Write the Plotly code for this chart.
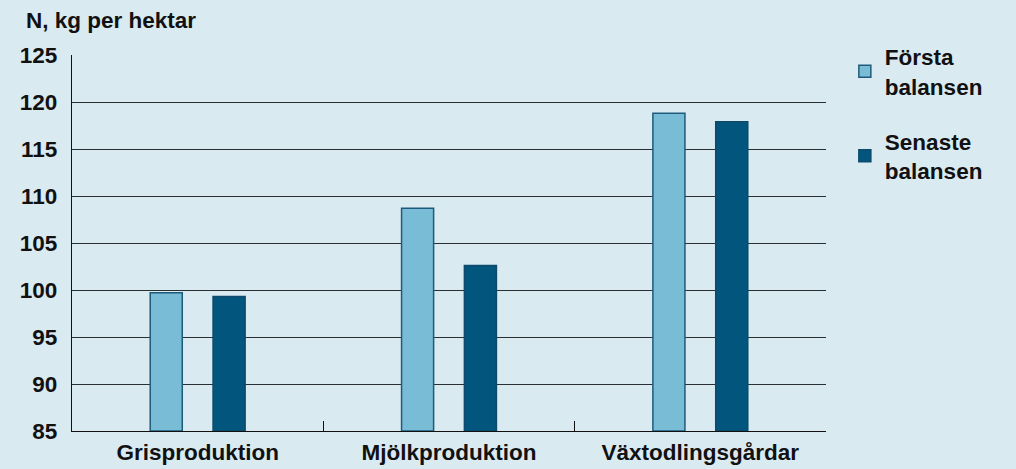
import plotly.graph_objects as go

categories = ["Grisproduktion", "Mjölkproduktion", "Växtodlingsgårdar"]
forsta = [99.7, 108.7, 118.8]
senaste = [99.3, 102.6, 117.9]
series_names = ["Första<br>balansen", "Senaste<br>balansen"]
y_ticks = [85, 90, 95, 100, 105, 110, 115, 120, 125]

BG = "#daeaf1"
FONT = "Liberation Sans, Arial, sans-serif"
FS = 22.5

fig = go.Figure()
fig.add_trace(go.Bar(
    x=categories, y=[v - 85 for v in forsta], base=85, name=f"<b>{series_names[0]}</b>",
    marker=dict(color="#79bcd6", line=dict(color="#1e5a7c", width=1.5)),
    legendgroup="a",
))
fig.add_trace(go.Bar(
    x=categories, y=[v - 85 for v in senaste], base=85, name=f"<b>{series_names[1]}</b>",
    marker=dict(color="#02557d", line=dict(color="#0d4a6b", width=1.5)),
    legendgroup="b",
))

fig.update_layout(
    width=1016, height=469,
    paper_bgcolor=BG, plot_bgcolor=BG,
    margin=dict(l=72, r=190, t=55, b=38),
    barmode="group", bargap=0.5, bargroupgap=0.49,
    font=dict(family=FONT, size=FS, color="#111111"),
    showlegend=True,
    legend=dict(
        x=1.025, y=1.052, xanchor="left", yanchor="top",
        font=dict(family=FONT, size=FS, color="#111111"),
        tracegroupgap=23, bgcolor="rgba(0,0,0,0)",
        itemwidth=30,
    ),
    annotations=[dict(
        text="<b>N, kg per hektar</b>", xref="paper", yref="paper",
        x=(24 - 72) / 754, y=1 + 35 / 376, xanchor="left", yanchor="middle",
        showarrow=False, font=dict(family=FONT, size=FS, color="#111111"),
    )],
)

fig.update_yaxes(
    range=[85, 125], tickvals=y_ticks, ticktext=[f"<b>{t}</b>" for t in y_ticks],
    showgrid=True, gridcolor="#2a2f33", gridwidth=1.4,
    showline=True, linecolor="#111111", linewidth=1.4,
    ticks="", ticklabelstandoff=9, zeroline=False, automargin=False,
    tickfont=dict(family=FONT, size=FS, color="#111111"),
)
fig.update_xaxes(
    tickvals=categories, ticktext=[f"<b>{c}</b>" for c in categories],
    showline=True, linecolor="#111111", linewidth=1.4,
    ticks="inside", tickson="boundaries", ticklen=10, tickwidth=1.4, tickcolor="#111111",
    ticklabelstandoff=1, showgrid=False, automargin=False,
    tickfont=dict(family=FONT, size=FS, color="#111111"),
)

fig.write_html(
    "out.html",
    config={"displayModeBar": False},
    post_script="document.body.style.margin='0';document.body.style.background='" + BG + "';",
)
